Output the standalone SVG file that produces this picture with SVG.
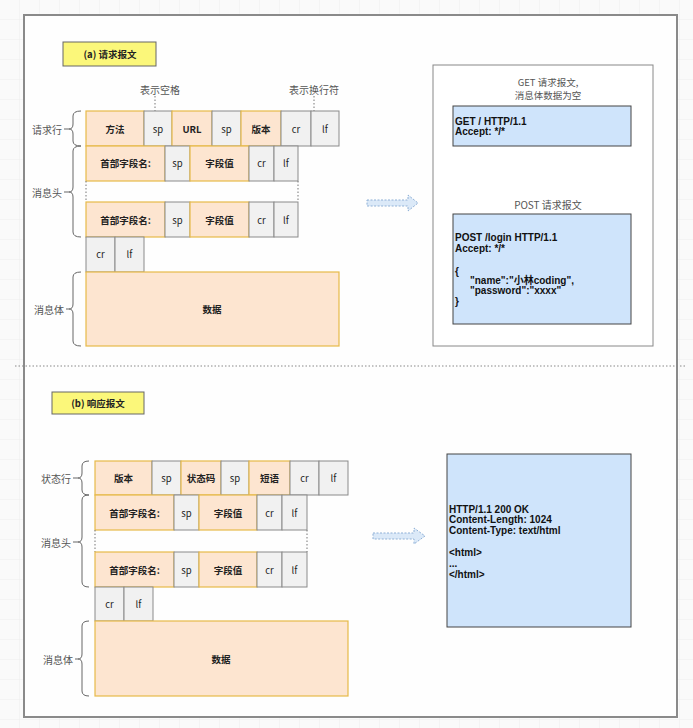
<svg xmlns="http://www.w3.org/2000/svg" width="693" height="728" viewBox="0 0 693 728">
<defs>
<pattern id="grid" width="20" height="20" patternUnits="userSpaceOnUse" x="0" y="0">
<path d="M20 0 V20 M0 20 H20" fill="none" stroke="#eeeeee" stroke-width="1"/>
</pattern>
<style>
.o{fill:#fde5d0;stroke:#e6b949;stroke-width:1.2}
.g{fill:#f1f1f1;stroke:#8a8a8a;stroke-width:1}
.b{fill:#cfe4fb;stroke:#444;stroke-width:1}
.y{fill:#fbf77a;stroke:#666;stroke-width:1}
.t{font-family:"Noto Sans CJK SC","Liberation Sans",sans-serif;font-size:9.5px;fill:#222;text-anchor:middle;dominant-baseline:central}
.bt{font-weight:bold}
.lab{font-family:"Noto Sans CJK SC","Liberation Sans",sans-serif;font-size:10px;fill:#555;text-anchor:middle;dominant-baseline:central}
.sm{font-size:9.5px}
.code{font-family:"Liberation Sans","Noto Sans CJK SC",sans-serif;font-size:10px;fill:#111;font-weight:bold}
.brace{fill:none;stroke:#666;stroke-width:1}
.dot{fill:none;stroke:#777;stroke-width:1;stroke-dasharray:1.5 2}
.arrow{fill:#dbe9f8;stroke:#8fb0d6;stroke-width:1;stroke-dasharray:2 1.5}
</style>
</defs>
<rect x="0" y="0" width="693" height="728" fill="#fafafa"/>
<rect x="0" y="0" width="693" height="728" fill="url(#grid)"/>
<rect id="frame" x="24" y="15" width="653" height="702" fill="#fefefe" stroke="#8a8a8a" stroke-width="2"/>
<line x1="15" y1="366" x2="686" y2="366" stroke="#888" stroke-width="1" stroke-dasharray="1.5 2"/>

<!-- Section (a) -->
<g id="title-a"><rect class="y" x="63" y="42" width="93" height="24"/><text class="t bt" x="110" y="54">(a) 请求报文</text></g>
<g id="note-sp"><text class="lab" x="160" y="89">表示空格</text><line class="dot" x1="155" y1="96" x2="155" y2="111"/></g>
<g id="note-crlf"><text class="lab" x="314" y="89">表示换行符</text><line class="dot" x1="314" y1="96" x2="314" y2="111"/></g>

<g id="req-line">
<rect class="o" x="86" y="111" width="58" height="35"/><text class="t bt" x="115" y="129">方法</text>
<rect class="g" x="144" y="111" width="28" height="35"/><text class="t" x="158" y="129">sp</text>
<rect class="o" x="172" y="111" width="40" height="35"/><text class="t bt" x="192" y="129">URL</text>
<rect class="g" x="212" y="111" width="29" height="35"/><text class="t" x="226.500" y="129">sp</text>
<rect class="o" x="241" y="111" width="40" height="35"/><text class="t bt" x="261" y="129">版本</text>
<rect class="g" x="281" y="111" width="30" height="35"/><text class="t" x="296" y="129">cr</text>
<rect class="g" x="311" y="111" width="28" height="35"/><text class="t" x="325" y="129">lf</text>
</g>
<g id="req-header1">
<rect class="o" x="86" y="146" width="79" height="35"/><text class="t bt" x="125.500" y="163">首部字段名:</text>
<rect class="g" x="165" y="146" width="25" height="35"/><text class="t" x="177.500" y="163">sp</text>
<rect class="o" x="190" y="146" width="59" height="35"/><text class="t bt" x="219.500" y="163">字段值</text>
<rect class="g" x="249" y="146" width="25" height="35"/><text class="t" x="261.500" y="163">cr</text>
<rect class="g" x="274" y="146" width="24" height="35"/><text class="t" x="286" y="163">lf</text>
</g>
<line class="dot" x1="86" y1="181" x2="86" y2="202"/><line class="dot" x1="298" y1="181" x2="298" y2="202"/>
<g id="req-header2">
<rect class="o" x="86" y="202" width="79" height="35"/><text class="t bt" x="125.500" y="220">首部字段名:</text>
<rect class="g" x="165" y="202" width="25" height="35"/><text class="t" x="177.500" y="220">sp</text>
<rect class="o" x="190" y="202" width="59" height="35"/><text class="t bt" x="219.500" y="220">字段值</text>
<rect class="g" x="249" y="202" width="25" height="35"/><text class="t" x="261.500" y="220">cr</text>
<rect class="g" x="274" y="202" width="24" height="35"/><text class="t" x="286" y="220">lf</text>
</g>
<g id="req-crlf">
<rect class="g" x="86" y="237" width="29" height="35"/><text class="t" x="100.500" y="254">cr</text>
<rect class="g" x="115" y="237" width="29" height="35"/><text class="t" x="129.500" y="254">lf</text>
</g>
<g id="req-body"><rect class="o" x="86" y="272" width="253" height="74"/><text class="t bt" x="212" y="309">数据</text></g>

<g id="req-labels">
<text class="lab" x="47" y="129">请求行</text>
<path class="brace" d="M64 129 H69 Q73 129 73 124 V116 Q73 111 81 111 M69 129 Q73 129 73 134 V141 Q73 146 81 146"/>
<text class="lab" x="47" y="192">消息头</text>
<path class="brace" d="M64 192 H69 Q73 192 73 187 V151 Q73 146 81 146 M69 192 Q73 192 73 197 V232 Q73 237 81 237"/>
<text class="lab" x="49" y="309">消息体</text>
<path class="brace" d="M66 309 H69 Q73 309 73 304 V277 Q73 272 81 272 M69 309 Q73 309 73 314 V341 Q73 346 81 346"/>
</g>

<g id="connectors">
<path class="arrow" d="M367 200 H408 V195 L418 203 L408 211 V206 H367 Z"/>
<path class="arrow" d="M373 533 H414 V528 L425 536 L414 544 V539 H373 Z"/>
</g>

<g id="req-examples">
<rect x="433" y="65" width="220" height="281" fill="#ffffff" stroke="#888" stroke-width="1"/>
<text class="lab sm" x="548" y="81.500">GET 请求报文,</text>
<text class="lab sm" x="548" y="95">消息体数据为空</text>
<rect class="b" x="453" y="106" width="178" height="40"/>
<text class="code" x="455" y="125">GET / HTTP/1.1</text>
<text class="code" x="455" y="135">Accept: */*</text>
<text class="lab" x="548" y="204">POST 请求报文</text>
<rect class="b" x="453" y="214" width="178" height="110"/>
<text class="code" x="455" y="241">POST /login HTTP/1.1</text>
<text class="code" x="455" y="252">Accept: */*</text>
<text class="code" x="455" y="275">{</text>
<text class="code" x="470" y="284">"name":"小林coding",</text>
<text class="code" x="470" y="294">"password":"xxxx"</text>
<text class="code" x="455" y="305">}</text>
</g>

<!-- Section (b) -->
<g id="title-b"><rect class="y" x="52" y="392" width="92" height="22"/><text class="t bt" x="98" y="403">(b) 响应报文</text></g>

<g id="status-line">
<rect class="o" x="95" y="461" width="57" height="34"/><text class="t bt" x="123.500" y="478">版本</text>
<rect class="g" x="152" y="461" width="29" height="34"/><text class="t" x="166.500" y="478">sp</text>
<rect class="o" x="181" y="461" width="40" height="34"/><text class="t bt" x="201" y="478">状态码</text>
<rect class="g" x="221" y="461" width="28" height="34"/><text class="t" x="235" y="478">sp</text>
<rect class="o" x="249" y="461" width="41" height="34"/><text class="t bt" x="269.500" y="478">短语</text>
<rect class="g" x="290" y="461" width="29" height="34"/><text class="t" x="304.500" y="478">cr</text>
<rect class="g" x="319" y="461" width="29" height="34"/><text class="t" x="333.500" y="478">lf</text>
</g>
<g id="res-header1">
<rect class="o" x="95" y="495" width="79" height="35"/><text class="t bt" x="134.500" y="513">首部字段名:</text>
<rect class="g" x="174" y="495" width="25" height="35"/><text class="t" x="186.500" y="513">sp</text>
<rect class="o" x="199" y="495" width="58" height="35"/><text class="t bt" x="228" y="513">字段值</text>
<rect class="g" x="257" y="495" width="25" height="35"/><text class="t" x="269.500" y="513">cr</text>
<rect class="g" x="282" y="495" width="25" height="35"/><text class="t" x="294.500" y="513">lf</text>
</g>
<line class="dot" x1="95" y1="530" x2="95" y2="552"/><line class="dot" x1="307" y1="530" x2="307" y2="552"/>
<g id="res-header2">
<rect class="o" x="95" y="552" width="79" height="35"/><text class="t bt" x="134.500" y="570">首部字段名:</text>
<rect class="g" x="174" y="552" width="25" height="35"/><text class="t" x="186.500" y="570">sp</text>
<rect class="o" x="199" y="552" width="58" height="35"/><text class="t bt" x="228" y="570">字段值</text>
<rect class="g" x="257" y="552" width="25" height="35"/><text class="t" x="269.500" y="570">cr</text>
<rect class="g" x="282" y="552" width="25" height="35"/><text class="t" x="294.500" y="570">lf</text>
</g>
<g id="res-crlf">
<rect class="g" x="95" y="587" width="29" height="34"/><text class="t" x="109.500" y="604">cr</text>
<rect class="g" x="124" y="587" width="29" height="34"/><text class="t" x="138.500" y="604">lf</text>
</g>
<g id="res-body"><rect class="o" x="95" y="621" width="253" height="75"/><text class="t bt" x="221" y="659">数据</text></g>

<g id="res-labels">
<text class="lab" x="56" y="478">状态行</text>
<path class="brace" d="M73 478 H78 Q82 478 82 473 V466 Q82 461 89 461 M78 478 Q82 478 82 483 V490 Q82 495 89 495"/>
<text class="lab" x="56" y="542">消息头</text>
<path class="brace" d="M73 542 H78 Q82 542 82 537 V500 Q82 495 89 495 M78 542 Q82 542 82 547 V582 Q82 587 89 587"/>
<text class="lab" x="58" y="659">消息体</text>
<path class="brace" d="M75 659 H78 Q82 659 82 654 V626 Q82 621 89 621 M78 659 Q82 659 82 664 V691 Q82 696 89 696"/>
</g>

<g id="res-example">
<rect class="b" x="447" y="454" width="184" height="173"/>
<text class="code" x="449" y="513">HTTP/1.1 200 OK</text>
<text class="code" x="449" y="523">Content-Length: 1024</text>
<text class="code" x="449" y="534">Content-Type: text/html</text>
<text class="code" x="449" y="556">&lt;html&gt;</text>
<text class="code" x="449" y="567">...</text>
<text class="code" x="449" y="578">&lt;/html&gt;</text>
</g>
</svg>
